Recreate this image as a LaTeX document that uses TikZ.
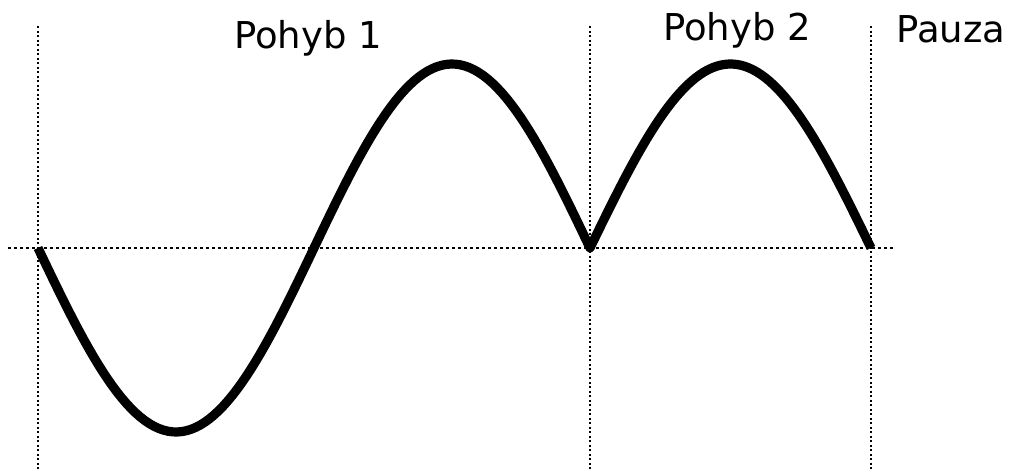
\documentclass[tikz,border=0pt]{standalone}
\usepackage{fontspec}
\setmainfont{DejaVu Sans}
\tikzset{
  vguide/.style={line width=1pt, dash pattern=on 1pt off 1.25pt},
  hguide/.style={line width=1.3pt, dash pattern=on 1.3pt off 1.7pt},
  wave/.style={line width=4.6pt, line join=round},
  phase/.style={font=\fontsize{18.5}{20}\selectfont, anchor=base, inner sep=0pt}
}
\begin{document}
\begin{tikzpicture}[x=0.5pt, y=-0.5pt]
\useasboundingbox (0,0) rectangle (1013,471);

% phase borders
\coordinate (start) at (38,248);
\coordinate (mid) at (590,248);
\coordinate (stop) at (871,248);
\draw[vguide] (38,26) -- (38,471);
\draw[vguide] (590,26) -- (590,471);
\draw[vguide] (871,26) -- (871,471);

% zero line
\draw[hguide] (8,248) -- (895,248);

% motion
\draw[wave] plot[domain=38:590, samples=120] (\x, {248+184*sin((\x-38)/552*360)})
  -- plot[domain=590:871, samples=70] (\x, {248-184*sin((\x-590)/281*180)});

% labels
\node[phase] (pohyb1) at (308,48) {Pohyb 1};
\node[phase] (pohyb2) at (737,40) {Pohyb 2};
\node[phase] (pauza) at (951,42) {Pauza};

\end{tikzpicture}
\end{document}
